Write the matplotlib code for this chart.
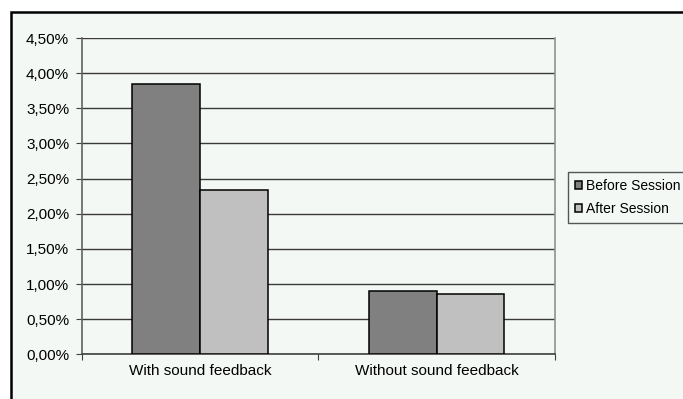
import numpy as np
import matplotlib.pyplot as plt
from matplotlib.patches import Rectangle
from matplotlib.ticker import FuncFormatter, FixedLocator

plt.rcParams['font.family'] = ['Liberation Sans', 'DejaVu Sans']

conditions = ['With sound feedback', 'Without sound feedback']
before_session = [3.84, 0.90]
after_session = [2.34, 0.855]
series_names = ['Before Session', 'After Session']
y_ticks = [0.0, 0.5, 1.0, 1.5, 2.0, 2.5, 3.0, 3.5, 4.0, 4.5]

bg = '#f4f8f4'
fig = plt.figure(figsize=(6.83, 3.99), dpi=100, facecolor='white')

# chart frame
frame = Rectangle((11 / 683, -0.02), 1.0, 1 - 12 / 399 + 0.02,
                  transform=fig.transFigure, facecolor=bg,
                  edgecolor='black', linewidth=1.8, zorder=-5)
fig.patches.append(frame)

ax = fig.add_axes([81.7 / 683, 1 - 354.3 / 399, (555 - 81.7) / 683, (354.3 - 38) / 399])
ax.set_facecolor(bg)

x = np.arange(len(conditions))
w = 0.286
ax.bar(x - w / 2, before_session, w, color='#808080', edgecolor='black',
       linewidth=1.1, label=series_names[0], zorder=3)
ax.bar(x + w / 2, after_session, w, color='#c0c0c0', edgecolor='black',
       linewidth=1.1, label=series_names[1], zorder=3)

ax.set_xlim(-0.5, 1.5)
ax.set_ylim(0, 4.5)
ax.set_yticks(y_ticks)
ax.yaxis.set_major_formatter(FuncFormatter(lambda v, p: f'{v:.2f}%'.replace('.', ',')))
ax.yaxis.grid(True, color='#3a3a3a', linewidth=1.0, zorder=1)
ax.set_axisbelow(True)

ax.xaxis.set_major_locator(FixedLocator([-0.5, 0.5, 1.5]))
ax.xaxis.set_major_formatter(FuncFormatter(lambda v, p: ''))
ax.xaxis.set_minor_locator(FixedLocator(x))
ax.set_xticklabels(conditions, minor=True)
ax.tick_params(axis='x', which='minor', length=0, pad=7, labelsize=11)
ax.tick_params(axis='x', which='major', length=4, color='#404040', direction='out')
ax.tick_params(axis='y', length=4, color='#404040', pad=5, labelsize=11)

ax.spines['top'].set_visible(False)
ax.spines['left'].set_color('#606060')
ax.spines['right'].set_color('#909090')
ax.spines['bottom'].set_color('#404040')
for s in ax.spines.values():
    s.set_linewidth(1.2)

leg = fig.legend(loc='upper left', bbox_to_anchor=(568 / 683, 1 - 172 / 399),
                 fontsize=10, frameon=True, fancybox=False, framealpha=1,
                 edgecolor='#555555', facecolor=bg, handlelength=0.5,
                 handleheight=0.5, handletextpad=0.3, borderpad=0.5,
                 labelspacing=0.65, borderaxespad=0)
leg.get_frame().set_linewidth(1.0)

fig.savefig('out.png', dpi=100, facecolor='white')
